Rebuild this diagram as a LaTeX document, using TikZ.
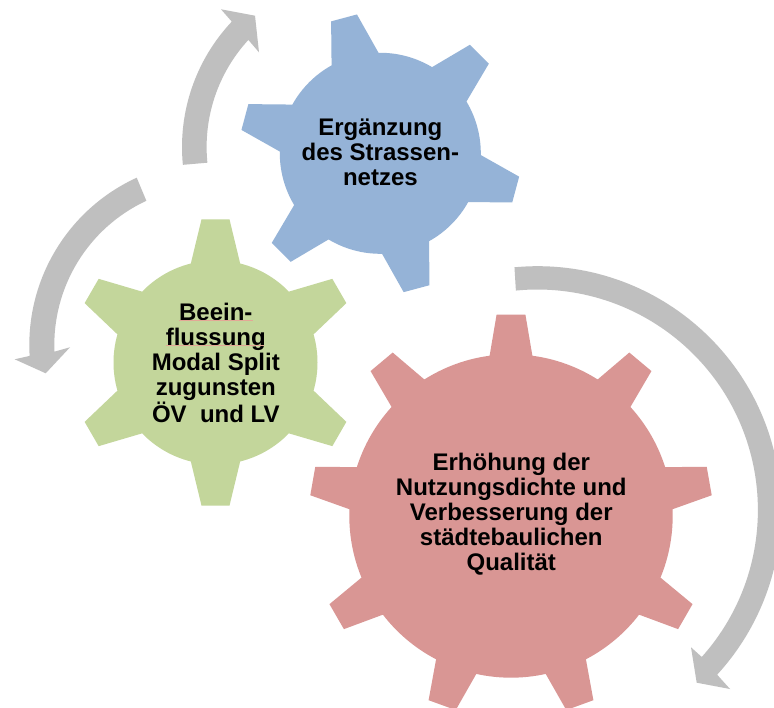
\documentclass[tikz,border=0pt]{standalone}
\usepackage{fontspec}
\setmainfont{Liberation Sans}
\definecolor{gearblue}{HTML}{95B3D7}
\definecolor{geargreen}{HTML}{C3D69B}
\definecolor{gearred}{HTML}{D99694}
\definecolor{arrowgray}{HTML}{BFBFBF}
\definecolor{squiggle}{HTML}{E3A796}
\tikzset{
  gearblueshape/.style={fill=gearblue},
  geargreenshape/.style={fill=geargreen},
  gearredshape/.style={fill=gearred},
  cyclearrow/.style={fill=arrowgray},
  gearlabel/.style={inner sep=0pt,align=center,text=black,font=\fontsize{24}{25}\selectfont\bfseries},
}
% cx, cy, R, tip R, base half angle, tip half angle, teeth, first axis, style
\newcommand\gearshape[9]{%
  \pgfmathtruncatemacro\lastk{#7-1}%
  \begin{scope}[shift={(#1,-#2)}]
    \path[#9] ({#8-#5}:#3)
      foreach \k [evaluate=\k as \a using #8+\k*360/#7] in {0,...,\lastk} {
        -- ({\a-#6}:#4) -- ({\a+#6}:#4) -- ({\a+#5}:#3)
        arc[start angle={\a+#5},end angle={\a+360/#7-#5},radius=#3]
      } -- cycle;
  \end{scope}}
\begin{document}
\begin{tikzpicture}[x=1pt,y=1pt]
\useasboundingbox (0,0) rectangle (774,-708);
\clip (0,0) rectangle (774,-708);
\fill[white] (0,0) rectangle (774,-708);

\gearshape{380.3}{153.3}{100.5}{140.8}{14}{5.45}{6}{105}{gearblueshape}
\gearshape{215.5}{362.5}{102}{143.7}{14}{5.6}{6}{30}{geargreenshape}
\gearshape{511}{516}{161.7}{201.8}{7.6}{4.1}{9}{90}{gearredshape}

% right arrow
\begin{scope}[shift={(537.4,-510)}]
\path[cyclearrow] (95.4:243.8) arc[start angle=95.4,end angle=-42.5,radius=243.8]
  -- (730-537.4,-689+510) -- (696.7-537.4,-682.7+510) -- (691-537.4,-647.3+510)
  -- (-41.8:220.5) arc[start angle=-41.8,end angle=95.6,radius=220.5] -- cycle;
\end{scope}
% left arrow
\begin{scope}[shift={(213.3,-345)}]
\path[cyclearrow] (114.6:184) arc[start angle=114.6,end angle=183.4,radius=184]
  -- (14.7-213.3,-359.3+345) -- (45.7-213.3,-373.3+345) -- (70-213.3,-347.3+345)
  -- (182.4:159) arc[start angle=182.4,end angle=114.9,radius=159] -- cycle;
\end{scope}
% top arrow
\begin{scope}[shift={(364.8,-147)}]
\path[cyclearrow] (185.6:182.8) arc[start angle=185.6,end angle=136.7,radius=182.8]
  -- (221-364.8,-9.3+147) -- (255-364.8,-15.7+147) -- (259-364.8,-52.3+147)
  -- (137.4:158.2) arc[start angle=137.4,end angle=185.7,radius=158.2] -- cycle;
\end{scope}

\node[gearlabel] (blue) at (380.4,-152) {Ergänzung\\des Strassen-\\netzes};
\node[gearlabel] (green) at (215.8,-363) {Beein-\\flussung\\Modal Split\\zugunsten\\ÖV\ \ und LV};
\node[gearlabel] (red) at (511.3,-514) {Erhöhung der\\Nutzungsdichte und\\Verbesserung der\\städtebaulichen\\Qualität};

\draw[squiggle,line width=0.5pt] (179.3,-320.3) -- (252.7,-320.3);
\draw[squiggle,line width=0.5pt] (165.7,-345.3) -- (264.3,-345.3);
\end{tikzpicture}
\end{document}
